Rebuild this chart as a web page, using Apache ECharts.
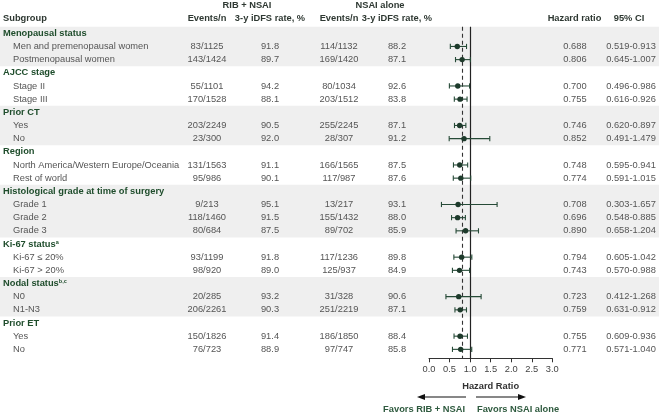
<!DOCTYPE html>
<html>
<head>
<meta charset="utf-8">
<script src="https://cdn.jsdelivr.net/npm/echarts@6/dist/echarts.min.js"></script>
<style>
html, body { margin: 0; padding: 0; background: #fff; }
#chart { width: 659px; height: 416px; }
</style>
</head>
<body>
<div id="chart"></div>
<script>
// ---- data ----
var groupNames = ['Menopausal status', 'AJCC stage', 'Prior CT', 'Region',
  'Histological grade at time of surgery', 'Ki-67 status', 'Nodal status', 'Prior ET'];
var groupNotes = ['', '', '', '', '', 'a', 'b,c', ''];
var groupSizes = [2, 2, 2, 2, 3, 2, 2, 2];
var subgroupNames = ['Men and premenopausal women', 'Postmenopausal women',
  'Stage II', 'Stage III', 'Yes', 'No',
  'North America/Western Europe/Oceania', 'Rest of world',
  'Grade 1', 'Grade 2', 'Grade 3', 'Ki-67 \u2264 20%', 'Ki-67 > 20%',
  'N0', 'N1-N3', 'Yes', 'No'];
var ribEvents = ['83/1125', '143/1424', '55/1101', '170/1528', '203/2249', '23/300',
  '131/1563', '95/986', '9/213', '118/1460', '80/684', '93/1199', '98/920',
  '20/285', '206/2261', '150/1826', '76/723'];
var ribRate = [91.8, 89.7, 94.2, 88.1, 90.5, 92.0, 91.1, 90.1, 95.1, 91.5, 87.5,
  91.8, 89.0, 93.2, 90.3, 91.4, 88.9];
var nsaiEvents = ['114/1132', '169/1420', '80/1034', '203/1512', '255/2245', '28/307',
  '166/1565', '117/987', '13/217', '155/1432', '89/702', '117/1236', '125/937',
  '31/328', '251/2219', '186/1850', '97/747'];
var nsaiRate = [88.2, 87.1, 92.6, 83.8, 87.1, 91.2, 87.5, 87.6, 93.1, 88.0, 85.9,
  89.8, 84.9, 90.6, 87.1, 88.4, 85.8];
var hazardRatio = [0.688, 0.806, 0.700, 0.755, 0.746, 0.852, 0.748, 0.774, 0.708,
  0.696, 0.890, 0.794, 0.743, 0.723, 0.759, 0.755, 0.771];
var ciLow = [0.519, 0.645, 0.496, 0.616, 0.620, 0.491, 0.595, 0.591, 0.303, 0.548,
  0.658, 0.605, 0.570, 0.412, 0.631, 0.609, 0.571];
var ciHigh = [0.913, 1.007, 0.986, 0.926, 0.897, 1.479, 0.941, 1.015, 1.657, 0.885,
  1.204, 1.042, 0.988, 1.268, 0.912, 0.936, 1.040];
var refHR = 0.81;        // dashed reference line
var hrMin = 0, hrMax = 3, hrStep = 0.5;

// ---- look ----
var FONT = 'Liberation Sans, Arial, sans-serif';
var FS = 9.3;
var GREEN = '#1f4d2c';
var MARK = '#264a37';
var GREYTXT = '#555';
var HEADTXT = '#2e3832';
var BAND = '#efefef';
var colX = { label: 3, indent: 13, ribEv: 207, ribRate: 270, nsEv: 339, nsRate: 397, hr: 575, ci: 631 };

// ---- build rows ----
var cells = [];   // text cells
var bands = [];   // [firstRow, lastRow] of shaded groups
var forest = [];  // [low, high, hr, row]
var row = 0, k = 0;
function cell(x, r, text, align, kind) { cells.push({ x: x, r: r, text: text, align: align, kind: kind }); }

groupNames.forEach(function (g, gi) {
  var start = row;
  cell(colX.label, row, g, 'left', groupNotes[gi] ? 'groupNote' : 'group');
  if (groupNotes[gi]) cells[cells.length - 1].note = groupNotes[gi];
  row++;
  for (var j = 0; j < groupSizes[gi]; j++, k++, row++) {
    cell(colX.indent, row, subgroupNames[k], 'left', 'val');
    cell(colX.ribEv, row, ribEvents[k], 'center', 'val');
    cell(colX.ribRate, row, ribRate[k].toFixed(1), 'center', 'val');
    cell(colX.nsEv, row, nsaiEvents[k], 'center', 'val');
    cell(colX.nsRate, row, nsaiRate[k].toFixed(1), 'center', 'val');
    cell(colX.hr, row, hazardRatio[k].toFixed(3), 'center', 'val');
    cell(colX.ci, row, ciLow[k].toFixed(3) + '-' + ciHigh[k].toFixed(3), 'center', 'val');
    forest.push([ciLow[k], ciHigh[k], hazardRatio[k], row]);
  }
  if (gi % 2 === 0) bands.push([start, row - 1]);
});
var nRows = row;

// column headers (above the first row)
cell(247, -2.15, 'RIB + NSAI', 'center', 'head');
cell(380, -2.15, 'NSAI alone', 'center', 'head');
cell(colX.label, -1.14, 'Subgroup', 'left', 'head');
cell(colX.ribEv, -1.14, 'Events/n', 'center', 'head');
cell(colX.ribRate, -1.14, '3-y iDFS rate, %', 'center', 'head');
cell(colX.nsEv, -1.14, 'Events/n', 'center', 'head');
cell(colX.nsRate, -1.14, '3-y iDFS rate, %', 'center', 'head');
cell(574.5, -1.14, 'Hazard ratio', 'center', 'head');
cell(629, -1.14, '95% CI', 'center', 'head');

var GRID_TOP = 26.7, GRID_BOTTOM = 57.7;
var yMax = nRows - 1 + 0.68;

var chart = echarts.init(document.getElementById('chart'));

function textStyleFor(c) {
  var st = { text: c.text, align: c.align, verticalAlign: 'middle', fontFamily: FONT, fontSize: FS,
    fontWeight: 'normal', fill: GREYTXT };
  if (c.kind === 'group' || c.kind === 'groupNote') { st.fontWeight = 'bold'; st.fill = GREEN; }
  if (c.kind === 'head') { st.fontWeight = 'bold'; st.fill = HEADTXT; }
  if (c.kind === 'groupNote') {
    st.text = '{g|' + c.text + '}{s|' + c.note + '}';
    st.rich = {
      g: { fontFamily: FONT, fontSize: FS, fontWeight: 'bold', fill: GREEN },
      s: { fontFamily: FONT, fontSize: 5.5, fontWeight: 'bold', fill: GREEN, verticalAlign: 'top', padding: [0, 0, 4, 0] }
    };
  }
  return st;
}

chart.setOption({
  animation: false,
  grid: [
    { left: 0, right: 0, top: GRID_TOP, bottom: GRID_BOTTOM },
    { left: 429, width: 123.3, top: GRID_TOP, bottom: GRID_BOTTOM }
  ],
  xAxis: [
    { gridIndex: 0, type: 'value', min: 0, max: 659, show: false },
    {
      gridIndex: 1, type: 'value', min: hrMin, max: hrMax, interval: hrStep,
      axisLine: { show: true, onZero: false, lineStyle: { color: '#333', width: 1 } },
      axisTick: { show: true, length: 4, lineStyle: { color: '#333' } },
      splitLine: { show: false },
      axisLabel: { fontFamily: FONT, fontSize: FS, color: '#444', margin: 7,
        formatter: function (v) { return v.toFixed(1); } },
      name: 'Hazard Ratio', nameLocation: 'middle', nameGap: 24,
      nameTextStyle: { fontFamily: FONT, fontSize: FS, fontWeight: 'bold', color: '#333' }
    }
  ],
  yAxis: [
    { gridIndex: 0, type: 'value', min: -0.5, max: yMax, inverse: true, show: false },
    { gridIndex: 1, type: 'value', min: -0.5, max: yMax, inverse: true, show: false }
  ],
  series: [
    {
      name: 'bands', type: 'custom', xAxisIndex: 0, yAxisIndex: 0, silent: true, z: 0,
      data: bands,
      renderItem: function (params, api) {
        var a = api.coord([0, api.value(0) - 0.5]);
        var b = api.coord([659, api.value(1) + 0.5]);
        return { type: 'rect', shape: { x: a[0], y: a[1], width: b[0] - a[0], height: b[1] - a[1] },
          style: { fill: BAND } };
      }
    },
    {
      name: 'table', type: 'custom', xAxisIndex: 0, yAxisIndex: 0, silent: true, z: 3,
      data: cells.map(function (c, i) { return [c.x, c.r, i]; }),
      renderItem: function (params, api) {
        var c = cells[params.dataIndex];
        var p = api.coord([c.x, c.r]);
        return { type: 'text', x: p[0], y: p[1], style: textStyleFor(c) };
      }
    },
    {
      name: 'forest', type: 'custom', xAxisIndex: 1, yAxisIndex: 1, silent: true, z: 5,
      data: forest,
      renderItem: function (params, api) {
        var lo = api.coord([api.value(0), api.value(3)]);
        var hi = api.coord([api.value(1), api.value(3)]);
        var pt = api.coord([api.value(2), api.value(3)]);
        var h = 2.6, ls = { stroke: MARK, lineWidth: 1.1 };
        return { type: 'group', children: [
          { type: 'line', shape: { x1: lo[0], y1: lo[1], x2: hi[0], y2: hi[1] }, style: ls },
          { type: 'line', shape: { x1: lo[0], y1: lo[1] - h, x2: lo[0], y2: lo[1] + h }, style: ls },
          { type: 'line', shape: { x1: hi[0], y1: hi[1] - h, x2: hi[0], y2: hi[1] + h }, style: ls },
          { type: 'circle', shape: { cx: pt[0], cy: pt[1], r: 2.7 }, style: { fill: '#1d3a2b' } }
        ] };
      },
      markLine: {
        silent: true, symbol: 'none', label: { show: false },
        data: [
          { xAxis: 1, lineStyle: { color: '#222', width: 1.2, type: 'solid' } },
          { xAxis: refHR, lineStyle: { color: '#333', width: 1.1, type: [4, 3] } }
        ]
      }
    }
  ],
  graphic: [
    { type: 'line', shape: { x1: 466, y1: 397, x2: 423, y2: 397 }, style: { stroke: '#111', lineWidth: 1.2 } },
    { type: 'polygon', shape: { points: [[417, 397], [425, 394], [425, 400]] }, style: { fill: '#111' } },
    { type: 'line', shape: { x1: 476, y1: 397, x2: 520, y2: 397 }, style: { stroke: '#111', lineWidth: 1.2 } },
    { type: 'polygon', shape: { points: [[526, 397], [518, 394], [518, 400]] }, style: { fill: '#111' } },
    { type: 'text', x: 465, y: 409, style: { text: 'Favors RIB + NSAI', align: 'right', verticalAlign: 'middle',
      fontFamily: FONT, fontSize: FS, fontWeight: 'bold', fill: '#2e5a3e' } },
    { type: 'text', x: 477, y: 409, style: { text: 'Favors NSAI alone', align: 'left', verticalAlign: 'middle',
      fontFamily: FONT, fontSize: FS, fontWeight: 'bold', fill: '#2e5a3e' } }
  ]
});
</script>
</body>
</html>
